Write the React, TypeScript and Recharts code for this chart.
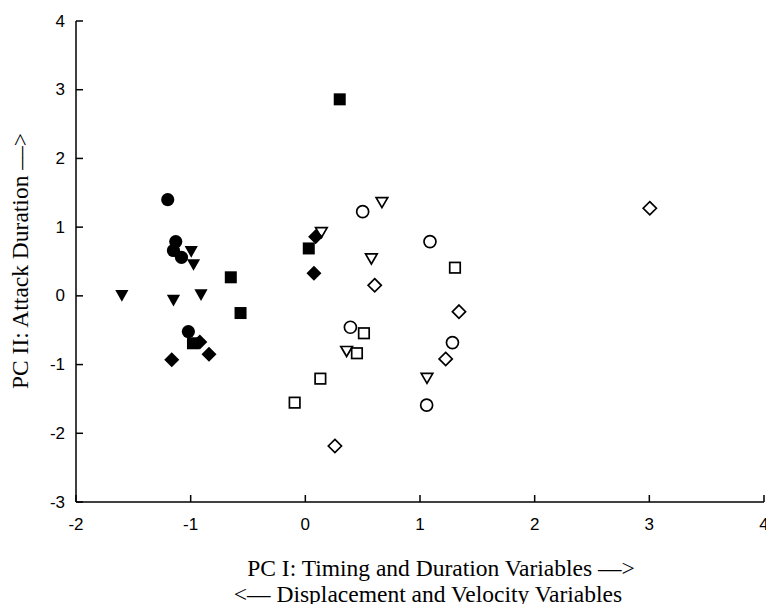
import React from 'react';
import { ScatterChart, Scatter, XAxis, YAxis } from 'recharts';

const xTicks = [-2, -1, 0, 1, 2, 3, 4];
const yTicks = [-3, -2, -1, 0, 1, 2, 3, 4];

const xTitle = 'PC I: Timing and Duration Variables \u2013\u2013>';
const xSubTitle = '<\u2013\u2013 Displacement and Velocity Variables';
const yTitle = 'PC II: Attack Duration \u2013\u2013>';

const filledCircles = [
  { x: -1.2, y: 1.4 },
  { x: -1.13, y: 0.79 },
  { x: -1.15, y: 0.66 },
  { x: -1.08, y: 0.56 },
  { x: -1.02, y: -0.52 },
];
const filledTriangles = [
  { x: -0.995, y: 0.64 },
  { x: -0.975, y: 0.45 },
  { x: -1.6, y: 0.0 },
  { x: -1.15, y: -0.07 },
  { x: -0.91, y: 0.01 },
];
const filledSquares = [
  { x: -0.65, y: 0.27 },
  { x: -0.565, y: -0.25 },
  { x: 0.03, y: 0.69 },
  { x: -0.98, y: -0.69 },
  { x: 0.3, y: 2.86 },
];
const filledDiamonds = [
  { x: 0.09, y: 0.86 },
  { x: 0.075, y: 0.33 },
  { x: -0.92, y: -0.67 },
  { x: -0.84, y: -0.85 },
  { x: -1.165, y: -0.93 },
];
const openCircles = [
  { x: 0.5, y: 1.225 },
  { x: 1.087, y: 0.79 },
  { x: 0.393, y: -0.457 },
  { x: 1.283, y: -0.68 },
  { x: 1.058, y: -1.59 },
];
const openTriangles = [
  { x: 0.668, y: 1.356 },
  { x: 0.14, y: 0.92 },
  { x: 0.576, y: 0.537 },
  { x: 0.36, y: -0.81 },
  { x: 1.061, y: -1.2 },
];
const openSquares = [
  { x: 1.305, y: 0.41 },
  { x: 0.511, y: -0.544 },
  { x: 0.45, y: -0.835 },
  { x: 0.131, y: -1.205 },
  { x: -0.093, y: -1.554 },
];
const openDiamonds = [
  { x: 3.004, y: 1.275 },
  { x: 0.605, y: 0.154 },
  { x: 1.34, y: -0.23 },
  { x: 1.224, y: -0.918 },
  { x: 0.258, y: -2.185 },
];

const SANS = '"Liberation Sans", Arial, Helvetica, sans-serif';
const SERIF = '"Liberation Serif", "Times New Roman", Times, serif';

const OPEN_STROKE = 1.7;
const TICK_FONT = 17;
const TITLE_FONT = 23.5;

const circleShape = (filled: boolean) => (p: any) => (
  <circle
    cx={p.cx}
    cy={p.cy}
    r={filled ? 6.6 : 6.0}
    fill={filled ? '#000' : '#fff'}
    stroke="#000"
    strokeWidth={filled ? 0 : OPEN_STROKE}
  />
);

const squareShape = (filled: boolean) => (p: any) => {
  const s = filled ? 12 : 10.5;
  return (
    <rect
      x={p.cx - s / 2}
      y={p.cy - s / 2}
      width={s}
      height={s}
      fill={filled ? '#000' : '#fff'}
      stroke="#000"
      strokeWidth={filled ? 0 : OPEN_STROKE}
    />
  );
};

const diamondShape = (filled: boolean) => (p: any) => {
  const h = filled ? 7.5 : 6.6;
  const { cx, cy } = p;
  return (
    <polygon
      points={`${cx},${cy - h} ${cx + h},${cy} ${cx},${cy + h} ${cx - h},${cy}`}
      fill={filled ? '#000' : '#fff'}
      stroke="#000"
      strokeWidth={filled ? 0 : OPEN_STROKE}
    />
  );
};

const triangleShape = (filled: boolean) => (p: any) => {
  const w = filled ? 6.6 : 5.8;
  const h = filled ? 5.8 : 5.0;
  const { cx, cy } = p;
  return (
    <polygon
      points={`${cx - w},${cy - h} ${cx + w},${cy - h} ${cx},${cy + h}`}
      fill={filled ? '#000' : '#fff'}
      stroke="#000"
      strokeWidth={filled ? 0 : OPEN_STROKE}
      strokeLinejoin="miter"
    />
  );
};

const YTick = (props: any) => {
  const { x, y, payload } = props;
  return (
    <g>
      <line x1={x} x2={x + 7} y1={y} y2={y} stroke="#000" strokeWidth={1.5} />
      <text
        x={x - 11}
        y={y}
        textAnchor="end"
        dominantBaseline="central"
        fontSize={TICK_FONT}
        fontFamily={SANS}
        fill="#000"
      >
        {payload.value}
      </text>
    </g>
  );
};

const XTick = (props: any) => {
  const { x, y, payload } = props;
  return (
    <g>
      <line x1={x} x2={x} y1={y} y2={y - 7} stroke="#000" strokeWidth={1.5} />
      <text
        x={x}
        y={y + 22}
        textAnchor="middle"
        dominantBaseline="central"
        fontSize={TICK_FONT}
        fontFamily={SANS}
        fill="#000"
      >
        {payload.value}
      </text>
    </g>
  );
};

const XTitle = () => (
  <g>
    <text
      x={441}
      y={568}
      textAnchor="middle"
      dominantBaseline="central"
      fontSize={TITLE_FONT}
      fontFamily={SERIF}
      fill="#000"
    >
      {xTitle}
    </text>
    <text
      x={428}
      y={594}
      textAnchor="middle"
      dominantBaseline="central"
      fontSize={TITLE_FONT}
      fontFamily={SERIF}
      fill="#000"
    >
      {xSubTitle}
    </text>
  </g>
);

const YTitle = () => (
  <text
    x={20}
    y={261}
    transform="rotate(-90 20 261)"
    textAnchor="middle"
    dominantBaseline="central"
    fontSize={TITLE_FONT}
    fontFamily={SERIF}
    fill="#000"
  >
    {yTitle}
  </text>
);

export default function App() {
  return (
    <div style={{ position: 'absolute', left: 0, top: 0, background: '#fff' }}>
      <ScatterChart
        width={766}
        height={604}
        margin={{ top: 21, right: 2, bottom: 0, left: 0 }}
      >
        <XAxis
          type="number"
          dataKey="x"
          domain={[-2, 4]}
          ticks={xTicks}
          interval={0}
          allowDataOverflow
          height={102}
          tickSize={0}
          tickMargin={0}
          tickLine={false}
          tick={<XTick />}
          axisLine={{ stroke: '#000', strokeWidth: 1.5 }}
          label={<XTitle />}
        />
        <YAxis
          type="number"
          dataKey="y"
          domain={[-3, 4]}
          ticks={yTicks}
          interval={0}
          allowDataOverflow
          width={76}
          tickSize={0}
          tickMargin={0}
          tickLine={false}
          tick={<YTick />}
          axisLine={{ stroke: '#000', strokeWidth: 1.5 }}
          label={<YTitle />}
        />
        <Scatter data={openCircles} shape={circleShape(false)} isAnimationActive={false} />
        <Scatter data={openTriangles} shape={triangleShape(false)} isAnimationActive={false} />
        <Scatter data={openSquares} shape={squareShape(false)} isAnimationActive={false} />
        <Scatter data={openDiamonds} shape={diamondShape(false)} isAnimationActive={false} />
        <Scatter data={filledSquares} shape={squareShape(true)} isAnimationActive={false} />
        <Scatter data={filledTriangles} shape={triangleShape(true)} isAnimationActive={false} />
        <Scatter data={filledDiamonds} shape={diamondShape(true)} isAnimationActive={false} />
        <Scatter data={filledCircles} shape={circleShape(true)} isAnimationActive={false} />
      </ScatterChart>
    </div>
  );
}
